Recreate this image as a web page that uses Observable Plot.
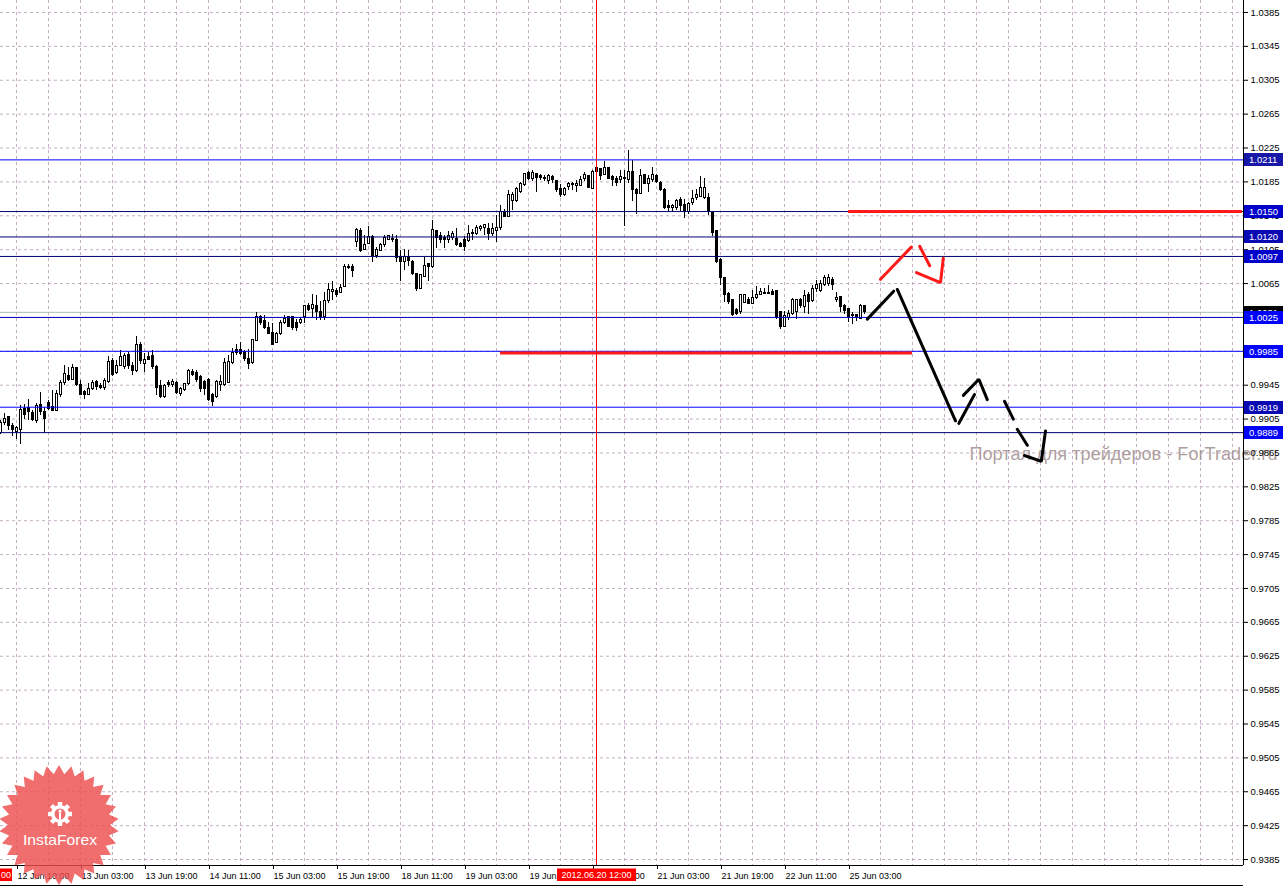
<!DOCTYPE html>
<html><head><meta charset="utf-8">
<script src="https://cdn.jsdelivr.net/npm/d3@7"></script>
<script src="https://cdn.jsdelivr.net/npm/@observablehq/plot@0.6"></script>
<style>
html,body{margin:0;padding:0;background:#fff;}
#chart{position:relative;width:1285px;height:887px;overflow:hidden;background:#fff;}
svg{display:block;}
</style></head><body><div id="chart"></div>
<script>
// ---- H1 candles (bar index 0..216) ----
const opens = [0.9888,0.9900,0.9907,0.9897,0.9890,0.9892,0.9917,0.9918,0.9912,0.9903,0.9922,0.9913,0.9924,0.9919,0.9915,0.9934,0.9947,0.9956,0.9951,0.9965,
0.9945,0.9937,0.9934,0.9940,0.9949,0.9944,0.9942,0.9949,0.9973,0.9959,0.9968,0.9967,0.9981,0.9968,0.9962,0.9992,0.9970,0.9978,0.9979,0.9966,
0.9944,0.9931,0.9947,0.9945,0.9947,0.9935,0.9939,0.9946,0.9960,0.9959,0.9955,0.9949,0.9951,0.9934,0.9931,0.9945,0.9945,0.9947,0.9971,0.9987,
0.9986,0.9984,0.9976,0.9971,0.9997,1.0025,1.0021,1.0012,1.0007,0.9995,1.0005,1.0018,1.0025,1.0025,1.0018,1.0018,1.0025,1.0038,1.0035,1.0039,
1.0032,1.0025,1.0044,1.0055,1.0056,1.0054,1.0061,1.0083,1.0084,1.0114,1.0127,1.0105,1.0112,1.0120,1.0098,1.0104,1.0110,1.0117,1.0118,1.0116,
1.0096,1.0091,1.0096,1.0091,1.0076,1.0059,1.0073,1.0088,1.0084,1.0127,1.0121,1.0119,1.0116,1.0119,1.0118,1.0112,1.0116,1.0115,1.0123,1.0123,
1.0129,1.0130,1.0129,1.0123,1.0127,1.0130,1.0149,1.0144,1.0163,1.0162,1.0173,1.0181,1.0195,1.0188,1.0194,1.0192,1.0188,1.0186,1.0191,1.0186,
1.0177,1.0170,1.0179,1.0183,1.0180,1.0180,1.0188,1.0192,1.0177,1.0201,1.0200,1.0193,1.0201,1.0191,1.0189,1.0187,1.0189,1.0187,1.0197,1.0176,
1.0171,1.0193,1.0182,1.0187,1.0192,1.0184,1.0176,1.0157,1.0154,1.0154,1.0164,1.0158,1.0150,1.0160,1.0166,1.0167,1.0166,1.0166,1.0149,1.0127,
1.0093,1.0071,1.0053,1.0045,1.0034,1.0031,1.0042,1.0046,1.0041,1.0048,1.0052,1.0053,1.0053,1.0055,1.0056,1.0031,1.0014,1.0024,1.0029,1.0031,
1.0046,1.0037,1.0051,1.0044,1.0058,1.0056,1.0063,1.0064,1.0069,1.0045,1.0049,1.0039,1.0035,1.0027,1.0028,1.0023,1.0038];
const highs = [0.9903,0.9912,0.9908,0.9900,0.9896,0.9921,0.9922,0.9928,0.9915,0.9923,0.9936,0.9919,0.9927,0.9939,0.9939,0.9951,0.9968,0.9966,0.9970,0.9966,
0.9951,0.9939,0.9947,0.9950,0.9950,0.9947,0.9953,0.9979,0.9976,0.9974,0.9986,0.9983,0.9984,0.9972,1.0002,0.9995,0.9982,0.9984,0.9986,0.9968,
0.9951,0.9946,0.9951,0.9952,0.9949,0.9942,0.9947,0.9963,0.9964,0.9962,0.9957,0.9951,0.9953,0.9935,0.9950,0.9956,0.9976,0.9980,0.9988,0.9993,
0.9995,0.9986,0.9987,0.9999,1.0031,1.0027,1.0027,1.0019,1.0018,1.0007,1.0021,1.0027,1.0026,1.0026,1.0023,1.0025,1.0039,1.0041,1.0052,1.0051,
1.0044,1.0055,1.0065,1.0067,1.0059,1.0064,1.0088,1.0088,1.0088,1.0130,1.0130,1.0122,1.0132,1.0122,1.0108,1.0112,1.0122,1.0122,1.0123,1.0122,
1.0104,1.0105,1.0104,1.0092,1.0077,1.0076,1.0096,1.0088,1.0140,1.0128,1.0125,1.0122,1.0127,1.0126,1.0130,1.0114,1.0120,1.0134,1.0129,1.0134,
1.0134,1.0135,1.0136,1.0136,1.0145,1.0157,1.0153,1.0175,1.0172,1.0178,1.0184,1.0195,1.0197,1.0199,1.0195,1.0194,1.0192,1.0194,1.0192,1.0187,
1.0182,1.0178,1.0184,1.0184,1.0187,1.0191,1.0196,1.0193,1.0199,1.0203,1.0201,1.0209,1.0202,1.0193,1.0191,1.0198,1.0198,1.0222,1.0210,1.0177,
1.0200,1.0194,1.0193,1.0202,1.0194,1.0186,1.0177,1.0163,1.0158,1.0164,1.0166,1.0164,1.0161,1.0175,1.0176,1.0191,1.0189,1.0171,1.0150,1.0128,
1.0094,1.0072,1.0054,1.0046,1.0035,1.0052,1.0052,1.0049,1.0057,1.0061,1.0059,1.0059,1.0063,1.0058,1.0057,1.0032,1.0032,1.0033,1.0047,1.0046,
1.0047,1.0057,1.0055,1.0063,1.0069,1.0069,1.0075,1.0076,1.0072,1.0055,1.0050,1.0040,1.0036,1.0031,1.0029,1.0040,1.0039];
const lows = [0.9887,0.9897,0.9892,0.9884,0.9881,0.9875,0.9905,0.9903,0.9902,0.9900,0.9909,0.9888,0.9915,0.9914,0.9914,0.9931,0.9945,0.9949,0.9950,0.9944,
0.9933,0.9928,0.9933,0.9939,0.9939,0.9940,0.9939,0.9947,0.9955,0.9958,0.9967,0.9964,0.9964,0.9957,0.9960,0.9970,0.9960,0.9974,0.9964,0.9933,
0.9929,0.9929,0.9942,0.9942,0.9934,0.9932,0.9938,0.9945,0.9955,0.9948,0.9936,0.9933,0.9926,0.9920,0.9929,0.9937,0.9944,0.9947,0.9970,0.9980,
0.9980,0.9973,0.9964,0.9970,0.9996,1.0016,1.0011,1.0005,0.9992,0.9994,1.0004,1.0017,1.0013,1.0009,1.0008,1.0017,1.0018,1.0032,1.0025,1.0021,
1.0021,1.0021,1.0041,1.0045,1.0049,1.0053,1.0060,1.0081,1.0072,1.0108,1.0102,1.0104,1.0111,1.0090,1.0094,1.0103,1.0107,1.0116,1.0114,1.0090,
1.0067,1.0080,1.0085,1.0074,1.0056,1.0058,1.0072,1.0068,1.0083,1.0106,1.0112,1.0106,1.0112,1.0116,1.0109,1.0107,1.0103,1.0113,1.0116,1.0122,
1.0127,1.0122,1.0116,1.0121,1.0113,1.0128,1.0143,1.0143,1.0151,1.0161,1.0171,1.0179,1.0187,1.0185,1.0172,1.0187,1.0185,1.0182,1.0183,1.0173,
1.0166,1.0168,1.0175,1.0175,1.0173,1.0179,1.0186,1.0177,1.0176,1.0194,1.0187,1.0192,1.0188,1.0179,1.0179,1.0183,1.0132,1.0183,1.0162,1.0147,
1.0170,1.0182,1.0172,1.0184,1.0183,1.0174,1.0153,1.0150,1.0149,1.0151,1.0150,1.0142,1.0146,1.0157,1.0163,1.0166,1.0164,1.0145,1.0120,1.0089,
1.0063,1.0043,1.0040,1.0026,1.0027,1.0029,1.0041,1.0040,1.0040,1.0046,1.0051,1.0052,1.0052,1.0051,1.0023,1.0011,1.0013,1.0021,1.0027,1.0023,
1.0036,1.0030,1.0029,1.0043,1.0055,1.0055,1.0062,1.0062,1.0057,1.0043,1.0031,1.0029,1.0019,1.0017,1.0020,1.0022,1.0029];
const closes = [0.9900,0.9905,0.9897,0.9892,0.9894,0.9916,0.9910,0.9913,0.9904,0.9921,0.9913,0.9905,0.9917,0.9915,0.9935,0.9947,0.9958,0.9951,0.9965,0.9945,
0.9934,0.9933,0.9940,0.9947,0.9943,0.9942,0.9950,0.9972,0.9957,0.9968,0.9978,0.9980,0.9968,0.9962,0.9992,0.9974,0.9975,0.9975,0.9966,0.9942,
0.9931,0.9944,0.9945,0.9949,0.9936,0.9940,0.9946,0.9962,0.9957,0.9951,0.9941,0.9941,0.9927,0.9925,0.9949,0.9949,0.9971,0.9972,0.9983,0.9983,
0.9982,0.9976,0.9970,0.9998,1.0025,1.0018,1.0012,1.0006,0.9993,1.0006,1.0018,1.0023,1.0014,1.0012,1.0012,1.0022,1.0038,1.0034,1.0040,1.0031,
1.0025,1.0044,1.0057,1.0057,1.0052,1.0060,1.0085,1.0085,1.0080,1.0128,1.0103,1.0111,1.0120,1.0098,1.0105,1.0110,1.0119,1.0121,1.0116,1.0095,
1.0091,1.0096,1.0092,1.0076,1.0058,1.0075,1.0086,1.0084,1.0128,1.0119,1.0117,1.0116,1.0121,1.0123,1.0110,1.0108,1.0108,1.0124,1.0125,1.0130,
1.0132,1.0134,1.0123,1.0129,1.0131,1.0149,1.0144,1.0169,1.0170,1.0177,1.0183,1.0194,1.0189,1.0195,1.0190,1.0190,1.0190,1.0192,1.0187,1.0175,
1.0169,1.0177,1.0183,1.0181,1.0183,1.0187,1.0193,1.0178,1.0197,1.0197,1.0192,1.0201,1.0189,1.0187,1.0184,1.0191,1.0190,1.0197,1.0176,1.0171,
1.0192,1.0183,1.0189,1.0193,1.0185,1.0175,1.0154,1.0154,1.0156,1.0163,1.0157,1.0149,1.0159,1.0165,1.0170,1.0178,1.0178,1.0149,1.0125,1.0091,
1.0071,1.0051,1.0043,1.0028,1.0029,1.0051,1.0051,1.0041,1.0048,1.0052,1.0055,1.0054,1.0054,1.0052,1.0024,1.0014,1.0027,1.0029,1.0046,1.0045,
1.0038,1.0050,1.0043,1.0059,1.0063,1.0065,1.0071,1.0071,1.0063,1.0048,1.0037,1.0033,1.0025,1.0028,1.0024,1.0039,1.0031];

// ---- axes ----
const yTickValues = [1.0385,1.0345,1.0305,1.0265,1.0225,1.0185,1.0145,1.0105,1.0065,1.0025,0.9985,0.9945,0.9905,0.9865,0.9825,0.9785,0.9745,0.9705,0.9665,0.9625,0.9585,0.9545,0.9505,0.9465,0.9425,0.9385];
const xTickBars = [4,20,36,52,68,84,100,116,132,148,164,180,196,212];
const xTickLabels = ["12 Jun 10:00","13 Jun 03:00","13 Jun 19:00","14 Jun 11:00","15 Jun 03:00","15 Jun 19:00","18 Jun 11:00","19 Jun 03:00","19 Jun 19:00","20 Jun 11:00","21 Jun 03:00","21 Jun 19:00","22 Jun 11:00","25 Jun 03:00"];
const yDomain = [0.9377949, 1.0399168];
const xDomain = [0, 310.75];

// ---- horizontal levels ----
const levelPrices = [1.0211,1.0150,1.0120,1.0097,1.0025,0.9985,0.9919,0.9889];
const levelLineColors = ["#0000ff","#000070","#000070","#000070","#0000c8","#0000ff","#0000ff","#000070"];
const levelBoxColors = ["#1818a8","#0000cc","#0a0ab4","#0000cc","#0000ff","#0000ff","#0a0ab4","#0000ff"];
const bidPrice = 1.0031;
const cursorBar = 149;
const cursorLabel = "2012.06.20 12:00";

// ---- red zones (bar from, bar to, price) ----
const redZoneFrom = [212, 125];
const redZoneTo = [310.5, 228];
const redZonePrice = [1.0150, 0.9983];

// ---- hand-drawn arrows: [bar, price] ----
const blackStrokes = [
  [[216.7,1.0023],[223.3,1.0056]],
  [[224.2,1.0058],[238.75,0.9903]],
  [[239.6,0.9900],[243.5,0.9934]],
  [[240.7,0.9933],[244.6,0.9952],[246.7,0.9928]],
  [[251.0,0.9926],[253.2,0.9905]],
  [[254.2,0.9893],[256.7,0.9874]],
  [[256.0,0.9862],[260.2,0.9855],[261.25,0.9891]]
];
const redStrokes = [
  [[220.0,1.0070],[227.7,1.0108]],
  [[229.8,1.0109],[232.3,1.0086]],
  [[229.0,1.0078],[235.0,1.0066],[235.7,1.0095]]
];
const watermarkText = "Портал для трейдеров - ForTrader.ru";
const watermarkAt = [242.25, 0.9863];

// ---- build tables ----
const candles = opens.map((o, i) => ({i, o, h: highs[i], l: lows[i], c: closes[i]}));
const levels = levelPrices.map((p, k) => ({p, color: levelLineColors[k]}));
const redZones = redZonePrice.map((p, k) => ({p, x1: redZoneFrom[k], x2: redZoneTo[k]}));
const flat = strokes => strokes.flatMap((s, k) => s.map(([i, p]) => ({k, i, p})));
const labelMap = new Map(xTickBars.map((b, k) => [b, xTickLabels[k]]));
const gridBars = d3.range(4, 310, 8);
const gridColor = "#c4aec4";

const plot = Plot.plot({
  width: 1285, height: 887,
  marginLeft: 0, marginRight: 42, marginTop: 0, marginBottom: 22,
  x: {domain: xDomain},
  y: {domain: yDomain},
  color: {type: "identity"},
  style: {fontFamily: "'Liberation Sans', Arial, sans-serif", fontSize: "9px", color: "black", background: "white", overflow: "visible"},
  marks: [
    Plot.ruleY(yTickValues, {stroke: gridColor, strokeDasharray: "3,3"}),
    Plot.ruleX(gridBars, {stroke: gridColor, strokeDasharray: "3,3"}),
    Plot.ruleY([bidPrice], {stroke: "#b2bcb2"}),
    Plot.ruleX(candles, {x: "i", y1: "l", y2: "h", stroke: "black", shapeRendering: "crispEdges"}),
    Plot.rect(candles, {x1: d => d.i - 0.25, x2: d => d.i + 0.25, y1: "o", y2: "c",
      fill: d => d.c >= d.o ? "white" : "black", stroke: "black", strokeWidth: 1, shapeRendering: "crispEdges"}),
    Plot.ruleY(levels, {y: "p", stroke: "color"}),
    Plot.ruleY(redZones, {y: "p", x1: "x1", x2: "x2", stroke: "#ff1a1a", strokeWidth: 3}),
    Plot.ruleX([cursorBar], {stroke: "#ff0000", shapeRendering: "crispEdges"}),
    Plot.text([watermarkText], {x: watermarkAt[0], y: watermarkAt[1], text: d => d, textAnchor: "start",
      fontSize: 18, fill: "#a08e8e", fillOpacity: 0.85}),
    Plot.line(flat(redStrokes), {x: "i", y: "p", z: "k", stroke: "#ff1a1a", strokeWidth: 3, strokeLinejoin: "miter"}),
    Plot.line(flat(blackStrokes), {x: "i", y: "p", z: "k", stroke: "black", strokeWidth: 3, strokeLinejoin: "miter"}),
    Plot.ruleX([xDomain[1]], {stroke: "black"}),
    Plot.ruleY([yDomain[0]], {stroke: "black"}),
    Plot.axisY(yTickValues, {anchor: "right", tickSize: 4, tickPadding: 3, tickFormat: d3.format(".4f"), fontSize: 9.5, stroke: "black", fill: "black"}),
    Plot.axisX(xTickBars, {anchor: "bottom", tickSize: 4, tickPadding: 3, tickFormat: d => labelMap.get(d), textAnchor: "start", dx: 1, fontSize: 9, stroke: "black", fill: "black"})
  ]
});
document.getElementById("chart").appendChild(plot);

// ---- overlays positioned through Plot's scales ----
const X = plot.scale("x"), Y = plot.scale("y");
const s = d3.select(plot);
const g = s.append("g").attr("font-family", "'Liberation Sans', Arial, sans-serif").attr("font-size", 9.5).attr("text-anchor", "start");
const frameRight = X.apply(xDomain[1]);
const frameBottom = Y.apply(yDomain[0]);
// bottom border of window
g.append("line").attr("x1", 0).attr("x2", frameRight).attr("y1", frameBottom + 20.5).attr("y2", frameBottom + 20.5).attr("stroke", "black");
function priceBox(p, fill) {
  const yc = Math.round(Y.apply(p));
  g.append("rect").attr("x", frameRight + 1).attr("y", yc - 6).attr("width", 39).attr("height", 13).attr("fill", fill);
  g.append("text").attr("x", frameRight + 6).attr("y", yc + 4).attr("fill", "white").attr("text-anchor", "start").text(d3.format(".4f")(p));
}
priceBox(bidPrice, "black");
levelPrices.forEach((p, k) => priceBox(p, levelBoxColors[k]));
// cursor date label
const cx = X.apply(cursorBar) + 0.5;
g.append("rect").attr("x", cx - 39.5).attr("y", frameBottom + 3.5).attr("width", 79).attr("height", 12.5).attr("fill", "#ff0000");
g.append("text").attr("x", cx).attr("y", frameBottom + 13).attr("fill", "white").attr("font-size", 9).attr("text-anchor", "middle").text(cursorLabel);
g.append("rect").attr("x", 0).attr("y", frameBottom + 3.5).attr("width", 12).attr("height", 12.5).attr("fill", "#ff0000");
g.append("text").attr("x", 11).attr("y", frameBottom + 13).attr("fill", "white").attr("font-size", 9).attr("text-anchor", "end").text("00");

// watermark width
s.selectAll("text").filter(function(){ return this.textContent === watermarkText; }).attr("textLength", 308).attr("lengthAdjust", "spacingAndGlyphs");

// InstaForex logo
const logo = s.append("g").attr("transform", "translate(59,825)").attr("opacity", 0.82);
const spikes = 30, pts = [];
for (let k = 0; k < spikes * 2; k++) {
  const r = k % 2 === 0 ? 60 : 51;
  const a = Math.PI * k / spikes - Math.PI / 2;
  pts.push([r * Math.cos(a), r * Math.sin(a)]);
}
logo.append("polygon").attr("points", pts.map(p => p.join(",")).join(" ")).attr("fill", "#ee4f4f");
const gear = logo.append("g").attr("transform", "translate(1,-11)").attr("fill", "white");
for (let k = 0; k < 8; k++) {
  gear.append("rect").attr("x", -2.2).attr("y", -12).attr("width", 4.4).attr("height", 6).attr("transform", `rotate(${k * 45})`);
}
gear.append("circle").attr("r", 9);
gear.append("circle").attr("r", 5.5).attr("fill", "#ee4f4f");
gear.append("circle").attr("cy", -3).attr("r", 1.6);
gear.append("rect").attr("x", -1).attr("y", -1.5).attr("width", 2).attr("height", 7);
logo.append("text").attr("x", 1).attr("y", 19.5).attr("text-anchor", "middle").attr("fill", "white")
  .attr("font-family", "'Liberation Sans', Arial, sans-serif").attr("font-size", 15)
  .attr("textLength", 74).attr("lengthAdjust", "spacingAndGlyphs").text("InstaForex");
</script></body></html>
